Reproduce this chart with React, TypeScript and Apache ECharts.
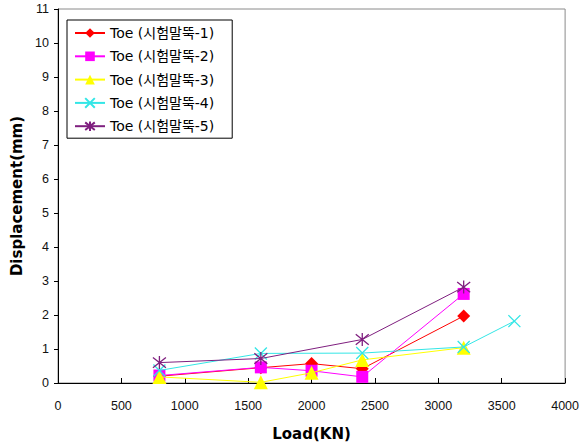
import React, { useEffect, useRef } from "react";
import * as echarts from "echarts";

const seriesNames = [
  "Toe (시험말뚝-1)",
  "Toe (시험말뚝-2)",
  "Toe (시험말뚝-3)",
  "Toe (시험말뚝-4)",
  "Toe (시험말뚝-5)",
];
const pile1: [number, number][] = [[800, 0.2], [1600, 0.45], [2000, 0.57], [2400, 0.42], [3200, 1.97]];
const pile2: [number, number][] = [[800, 0.22], [1600, 0.46], [2000, 0.36], [2400, 0.18], [3200, 2.62]];
const pile3: [number, number][] = [[800, 0.18], [1600, 0.02], [2000, 0.3], [2400, 0.68], [3200, 1.04]];
const pile4: [number, number][] = [[800, 0.37], [1600, 0.87], [2400, 0.88], [3200, 1.06], [3600, 1.82]];
const pile5: [number, number][] = [[800, 0.6], [1600, 0.72], [2400, 1.28], [3200, 2.82]];
const colors = ["#ff0000", "#ff00ff", "#ffff00", "#33e6e6", "#7f1f7f"];
const symbols = [
  "diamond",
  "rect",
  "triangle",
  "path://M0,0L10,10M10,0L0,10",
  "path://M5,0L5,10M1,1L9,9M9,1L1,9",
];
const symbolSizes = [13, 12, 14, 12, 13];
const xTicks = { min: 0, max: 4000, interval: 500 };
const yTicks = { min: 0, max: 11, interval: 1 };

export default function App() {
  const ref = useRef<HTMLDivElement>(null);
  useEffect(() => {
    const chart = echarts.init(ref.current!, null, { renderer: "svg" });
    const data = [pile1, pile2, pile3, pile4, pile5];
    const tickFont = { fontFamily: "Liberation Sans", fontSize: 12.5, color: "#111" };
    const titleFont = { fontFamily: "DejaVu Sans", fontSize: 15, fontWeight: "bold", color: "#000" };
    chart.setOption({
      animation: false,
      backgroundColor: "#fff",
      grid: {
        left: 58,
        right: 14,
        top: 9,
        bottom: 63,
        show: true,
        borderColor: "#8a8a8a",
        borderWidth: 1,
        backgroundColor: "#fff",
      },
      legend: {
        orient: "vertical",
        left: 67,
        top: 20,
        itemWidth: 30,
        itemHeight: 12,
        itemGap: 9.3,
        padding: [6, 18, 5, 7],
        borderColor: "#000",
        borderWidth: 1,
        backgroundColor: "#fff",
        data: seriesNames,
        textStyle: {
          fontFamily: "DejaVu Sans, Noto Sans CJK KR",
          fontSize: 14,
          color: "#000",
        },
      },
      xAxis: {
        type: "value",
        ...xTicks,
        name: "Load(KN)",
        nameLocation: "middle",
        nameGap: 43,
        nameTextStyle: titleFont,
        axisLine: { show: true, lineStyle: { color: "#000", width: 1 } },
        axisTick: { show: true, inside: true, length: 5, lineStyle: { color: "#000" } },
        axisLabel: { ...tickFont, margin: 16, formatter: (v: number) => String(v) },
        splitLine: { show: false },
      },
      yAxis: {
        type: "value",
        ...yTicks,
        name: "Displacement(mm)",
        nameLocation: "middle",
        nameGap: 31,
        nameTextStyle: titleFont,
        axisLine: { show: true, lineStyle: { color: "#000", width: 1 } },
        axisTick: { show: true, inside: false, length: 4, lineStyle: { color: "#000" } },
        axisLabel: { ...tickFont, margin: 9, formatter: (v: number) => String(v) },
        splitLine: { show: false },
      },
      series: seriesNames.map((name, i) => ({
        name,
        type: "line",
        data: data[i],
        symbol: symbols[i],
        symbolSize: symbolSizes[i],
        showAllSymbol: true,
        lineStyle: { color: colors[i], width: 1 },
        itemStyle: {
          color: colors[i],
          borderColor: colors[i],
          borderWidth: i >= 3 ? 1.3 : 0,
        },
        emphasis: { disabled: true },
        z: 2 + i,
      })),
    });
    return () => chart.dispose();
  }, []);
  return <div ref={ref} style={{ width: 582, height: 446, position: "absolute", left: 0, top: 0 }} />;
}
